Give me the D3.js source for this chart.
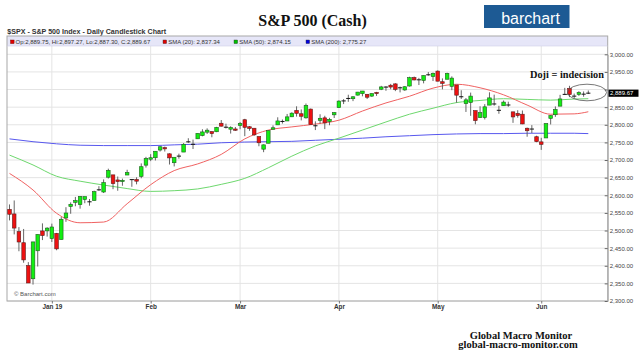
<!DOCTYPE html>
<html><head><meta charset="utf-8">
<script src="https://cdn.jsdelivr.net/npm/d3@7"></script>
<style>
html,body{margin:0;padding:0;background:#fff;}
svg{display:block;}
text{font-family:"Liberation Sans",Arial,sans-serif;}
.serif{font-family:"Liberation Serif","Times New Roman",serif;font-weight:bold;}
</style></head><body>
<svg id="chart" width="640" height="356"></svg>
<script>
// ---------- DATA ----------
const monthDays = [
  ["2018-12", [18,19,20,21,24,26,27,28,31]],
  ["2019-01", [2,3,4,7,8,9,10,11,14,15,16,17,18,22,23,24,25,28,29,30,31]],
  ["2019-02", [1,4,5,6,7,8,11,12,13,14,15,19,20,21,22,25,26,27,28]],
  ["2019-03", [1,4,5,6,7,8,11,12,13,14,15,18,19,20,21,22,25,26,27,28,29]],
  ["2019-04", [1,2,3,4,5,8,9,10,11,12,15,16,17,18,22,23,24,25,26,29,30]],
  ["2019-05", [1,2,3,6,7,8,9,10,13,14,15,16,17,20,21,22,23,24,28,29,30,31]],
  ["2019-06", [3,4,5,6,7,10,11,12,13,14,17]]
];
const monthLabels = ["Jan 19","Feb","Mar","Apr","May","Jun"];

const opens = [
 2559.90,2547.05,2496.77,2465.38,2400.56,2363.12,2442.50,2498.77,2498.94,
 2476.96,2491.92,2474.33,2535.61,2568.11,2580.00,2573.51,2588.11,2580.31,2585.10,2614.75,2609.28,2651.27,2657.88,2643.48,2638.84,2657.44,2644.97,2644.89,2653.62,2685.49,
 2702.32,2706.49,2728.34,2735.05,2717.53,2692.36,2712.40,2722.61,2750.30,2743.50,2760.24,2769.28,2779.05,2780.67,2780.24,2804.35,2792.36,2787.50,2788.11,
 2798.22,2814.37,2794.41,2790.27,2766.53,2730.79,2747.61,2787.34,2799.78,2810.38,2810.79,2822.61,2840.76,2831.34,2819.72,2844.52,2796.01,2812.66,2819.72,2809.40,2828.27,
 2848.63,2868.24,2876.09,2873.99,2884.16,2888.46,2886.58,2881.37,2891.92,2900.86,2908.32,2912.26,2916.04,2904.81,2898.78,2909.99,2934.00,2928.99,2925.81,2940.58,2937.14,
 2952.33,2922.16,2929.21,2908.89,2913.03,2879.61,2859.84,2863.10,2840.19,2820.12,2820.38,2855.80,2858.60,2841.94,2854.02,2856.06,2836.70,2832.41,2830.03,2790.25,2786.94,2766.15,
 2751.53,2762.64,2818.09,2828.51,2852.87,2885.83,2903.27,2882.73,2886.24,2886.82,2889.75
];
const highs = [
 2573.99,2585.29,2509.63,2504.41,2410.34,2467.76,2489.10,2520.27,2509.24,
 2519.49,2493.14,2538.07,2566.16,2579.82,2595.32,2597.82,2596.27,2589.32,2613.08,2625.76,2645.06,2675.47,2657.88,2653.19,2647.20,2672.38,2644.97,2650.93,2690.44,2708.95,
 2716.66,2724.99,2738.98,2738.08,2719.32,2708.07,2718.05,2748.19,2761.85,2757.90,2775.66,2787.33,2789.88,2781.58,2794.20,2813.49,2803.12,2795.76,2793.73,
 2808.02,2816.88,2796.44,2790.27,2767.25,2744.13,2784.00,2798.32,2821.24,2815.00,2830.73,2835.41,2852.42,2843.54,2860.31,2846.16,2809.79,2829.87,2825.56,2819.71,2836.03,
 2869.40,2872.90,2885.25,2881.28,2893.24,2895.95,2886.88,2889.71,2893.42,2910.54,2909.60,2916.06,2918.00,2908.40,2909.51,2936.31,2936.83,2933.10,2939.88,2949.52,2948.22,
 2954.13,2931.68,2947.85,2937.32,2913.03,2897.96,2875.97,2891.31,2840.19,2852.54,2858.68,2892.15,2885.48,2853.86,2868.88,2865.47,2836.70,2841.36,2840.51,2792.03,2799.00,2768.98,
 2763.07,2804.49,2827.28,2852.10,2884.97,2904.77,2910.61,2888.57,2895.24,2894.45,2897.27
];
const lows = [
 2528.71,2488.96,2441.18,2408.55,2351.10,2346.58,2397.94,2472.89,2482.82,
 2467.47,2443.96,2474.33,2524.56,2547.56,2568.89,2562.02,2577.40,2570.41,2585.10,2612.68,2606.36,2647.58,2617.27,2612.86,2627.01,2657.33,2624.06,2631.05,2648.34,2678.65,
 2696.88,2698.75,2724.03,2724.15,2687.26,2681.83,2703.79,2722.61,2748.63,2731.23,2760.24,2767.29,2774.06,2764.55,2779.11,2794.99,2789.47,2775.13,2782.51,
 2787.38,2767.66,2782.97,2768.69,2739.09,2722.27,2747.61,2786.73,2799.78,2803.46,2810.79,2821.99,2823.27,2812.43,2817.38,2800.47,2785.02,2803.99,2787.72,2798.77,2819.23,
 2848.63,2858.75,2865.17,2867.14,2882.99,2880.78,2873.33,2879.13,2881.99,2898.37,2896.48,2900.71,2895.45,2891.90,2896.35,2908.53,2926.05,2912.84,2917.56,2939.35,2924.11,
 2923.36,2900.50,2929.21,2898.21,2862.60,2873.28,2836.40,2825.39,2801.43,2820.12,2815.08,2855.80,2854.23,2831.29,2854.02,2851.11,2805.49,2820.19,2801.58,2766.06,2776.74,2750.52,
 2728.81,2762.64,2800.92,2822.45,2852.87,2885.51,2878.53,2874.68,2881.99,2879.62,2887.30
];
const closes = [
 2546.16,2506.96,2467.42,2416.62,2351.10,2467.70,2488.83,2485.74,2506.85,
 2510.03,2447.89,2531.94,2549.69,2574.41,2584.96,2596.64,2596.26,2582.61,2610.30,2616.10,2635.96,2670.71,2632.90,2638.70,2642.33,2664.76,2643.85,2640.00,2681.05,2704.10,
 2706.53,2724.87,2737.70,2731.61,2706.05,2707.88,2709.80,2744.73,2753.03,2745.73,2775.60,2779.76,2784.70,2774.88,2792.67,2796.11,2793.90,2792.38,2784.49,
 2803.69,2792.81,2789.65,2771.45,2748.93,2743.07,2783.30,2791.52,2810.92,2808.48,2822.48,2832.94,2832.57,2824.23,2854.88,2800.71,2798.36,2818.46,2805.37,2815.44,2834.40,
 2867.19,2867.24,2873.40,2879.39,2892.74,2895.77,2878.20,2888.21,2888.32,2907.41,2905.58,2907.06,2900.45,2905.03,2907.97,2933.68,2927.25,2926.17,2939.88,2943.03,2945.83,
 2923.73,2917.52,2945.64,2932.47,2884.05,2879.42,2870.72,2881.40,2811.87,2834.41,2850.96,2876.32,2859.53,2840.23,2864.36,2856.27,2822.24,2826.06,2802.39,2783.02,2788.86,2752.06,
 2744.45,2803.27,2826.15,2843.49,2873.34,2886.73,2885.72,2879.84,2891.64,2886.98,2889.67
];

// moving averages at every 5th session (plus the last)
const smaIndex = [0,5,10,15,20,25,30,35,40,45,50,55,60,65,70,75,80,85,90,95,100,105,110,115,120,123];
const sma20  = [2662,2615,2549,2522,2524,2576,2630,2670,2689,2716,2760,2785,2794,2802,2813,2839,2862,2881,2904,2915,2905,2885,2856,2830,2831,2837];
const sma50  = [2714,2686,2654,2640,2629,2619,2611,2613,2618,2631,2648,2678,2711,2740,2762,2785,2808,2830,2847,2863,2869,2874,2872,2870,2873,2874];
const sma200 = [2760,2752,2746,2742,2741,2741,2741,2743,2745,2749,2751,2752,2753,2756,2759,2762,2766,2769,2772,2774,2775,2775,2776,2776,2776,2775];

const priceTicks = [2300,2350,2400,2450,2500,2550,2600,2650,2700,2750,2800,2850,2900,2950,3000];
const lastBar = {op:"2,889.75", hi:"2,897.27", lo:"2,887.30", cl:"2,889.67", last:2889.67};
const legendItems = [
  {label:"SMA (20): 2,837.34", color:"#e00000"},
  {label:"SMA (50): 2,874.15", color:"#00c000"},
  {label:"SMA (200): 2,775.27", color:"#0000e0"}
];

// ---------- LAYOUT ----------
const plot = {left:7, right:607.7, top:36, band:46, bottom:301};
const svg = d3.select("#chart");

const dates = monthDays.flatMap(([m, ds]) => ds.map(d => m + "-" + String(d).padStart(2,"0")));
const n = dates.length;
const bars = dates.map((d,i) => ({i, date:d, o:opens[i], h:highs[i], l:lows[i], c:closes[i]}));

const x = d3.scaleLinear().domain([0, n-1]).range([9.5, 588.3]);
const y = d3.scaleLinear().domain([2300, 3000]).range([plot.bottom, 54.3]);

const monthStarts = [];
dates.forEach((d,i) => { if (i>0 && d.slice(0,7) !== dates[i-1].slice(0,7)) monthStarts.push(i); });

// ---------- TITLES ----------
svg.append("text").attr("class","serif").attr("x",312.5).attr("y",26)
  .attr("text-anchor","middle").attr("font-size",16).attr("fill","#111").text("S&P 500 (Cash)");

svg.append("rect").attr("x",484).attr("y",5).attr("width",85.5).attr("height",23).attr("fill","#1d5a94");
svg.append("text").attr("x",530.5).attr("y",23.5).attr("text-anchor","middle")
  .attr("font-size",16).attr("fill","#fff").attr("font-weight","500").text("barchart");

svg.append("text").attr("x",7.3).attr("y",34.3).attr("font-size",7.1).attr("font-weight","bold")
  .attr("fill","#333").text("$SPX - S&P 500 Index - Daily Candlestick Chart");

// ---------- FRAME / BAND ----------
svg.append("rect").attr("x",plot.left).attr("y",plot.top).attr("width",plot.right-plot.left)
  .attr("height",plot.band-plot.top).attr("fill","#e6e6f8");

const grid = svg.append("g");
grid.selectAll("line.h").data(priceTicks).join("line")
  .attr("x1",plot.left).attr("x2",plot.right)
  .attr("y1",d=>y(d)).attr("y2",d=>y(d))
  .attr("stroke","#e4e4e4").attr("stroke-width",1);
grid.selectAll("line.v").data(monthStarts).join("line")
  .attr("x1",d=>x(d)).attr("x2",d=>x(d))
  .attr("y1",plot.band).attr("y2",plot.bottom)
  .attr("stroke","#e4e4e4").attr("stroke-width",1);

svg.append("rect").attr("x",plot.left).attr("y",plot.top).attr("width",plot.right-plot.left)
  .attr("height",plot.bottom-plot.top).attr("fill","none").attr("stroke","#a8a8a8").attr("stroke-width",1);
svg.append("line").attr("x1",plot.left).attr("x2",plot.right).attr("y1",plot.band).attr("y2",plot.band)
  .attr("stroke","#d0d0e8").attr("stroke-width",0.6);

const leg = svg.append("g").attr("font-size",6).attr("fill","#333");
leg.append("rect").attr("x",10.5).attr("y",40).attr("width",3.6).attr("height",3.6)
  .attr("fill","#e00000").attr("stroke","#600").attr("stroke-width",0.4);
leg.append("text").attr("x",15.5).attr("y",43.6)
  .text(`Op:${lastBar.op}, Hi:${lastBar.hi}, Lo:${lastBar.lo}, C:${lastBar.cl}`);
const legX = [163, 234, 306];
legendItems.forEach((it,k) => {
  leg.append("rect").attr("x",legX[k]).attr("y",40).attr("width",3.6).attr("height",3.6)
    .attr("fill",it.color).attr("stroke","#333").attr("stroke-width",0.4);
  leg.append("text").attr("x",legX[k]+5.2).attr("y",43.6).text(it.label);
});

// ---------- SMA LINES ----------
const smaLine = vals => d3.line().x((d,k)=>x(smaIndex[k])).y(d=>y(d)).curve(d3.curveMonotoneX)(vals);
svg.append("path").attr("d",smaLine(sma200)).attr("fill","none").attr("stroke","#5858ee").attr("stroke-width",1);
svg.append("path").attr("d",smaLine(sma50)).attr("fill","none").attr("stroke","#6ed86e").attr("stroke-width",1);
svg.append("path").attr("d",smaLine(sma20)).attr("fill","none").attr("stroke","#f06262").attr("stroke-width",1);

// ---------- CANDLES ----------
const bw = 3.6;
const cg = svg.append("g");
const candle = cg.selectAll("g").data(bars).join("g");
candle.append("line")
  .attr("x1",d=>x(d.i)).attr("x2",d=>x(d.i))
  .attr("y1",d=>y(d.h)).attr("y2",d=>y(d.l))
  .attr("stroke","#555").attr("stroke-width",0.9);
candle.filter(d=>Math.abs(d.c-d.o) >= 3).append("rect")
  .attr("x",d=>x(d.i)-bw/2).attr("width",bw)
  .attr("y",d=>y(Math.max(d.o,d.c))).attr("height",d=>Math.max(1,y(Math.min(d.o,d.c))-y(Math.max(d.o,d.c))))
  .attr("fill",d=>d.c>d.o ? "#12ee12" : "#ee1111")
  .attr("stroke",d=>d.c>d.o ? "#1d5e1d" : "#5e1d1d").attr("stroke-width",0.6);
candle.filter(d=>Math.abs(d.c-d.o) < 3).append("line")
  .attr("x1",d=>x(d.i)-bw/2-0.3).attr("x2",d=>x(d.i)+bw/2+0.3)
  .attr("y1",d=>y((d.o+d.c)/2)).attr("y2",d=>y((d.o+d.c)/2))
  .attr("stroke","#111").attr("stroke-width",1);

// ---------- AXES ----------
const yAxis = d3.axisRight(y).tickValues(priceTicks).tickFormat(d3.format(",.2f"))
  .tickSizeInner(-3).tickSizeOuter(0).tickPadding(2);
const ya = svg.append("g").attr("transform",`translate(${plot.right},0)`).call(yAxis);
ya.select(".domain").attr("stroke","#a8a8a8");
ya.selectAll(".tick line").attr("stroke","#666");
ya.selectAll(".tick text").attr("font-size",6).attr("fill","#444").attr("font-family","Liberation Sans, Arial, sans-serif")
  .style("display",d=>Math.abs(y(d)-y(lastBar.last))<7 ? "none" : null);

const xAxis = d3.axisBottom(x).tickValues(monthStarts).tickFormat((d,k)=>monthLabels[k])
  .tickSizeInner(2.5).tickSizeOuter(0).tickPadding(0.8);
const xa = svg.append("g").attr("transform",`translate(0,${plot.bottom})`).call(xAxis);
xa.select(".domain").remove();
xa.selectAll(".tick line").attr("stroke","#777");
xa.selectAll(".tick text").attr("font-size",6.4).attr("font-weight","bold").attr("fill","#333")
  .attr("font-family","Liberation Sans, Arial, sans-serif");

const ly = y(lastBar.last);
svg.append("rect").attr("x",608.5).attr("y",ly-3.6).attr("width",30).attr("height",7.2).attr("fill","#000");
svg.append("text").attr("x",610).attr("y",ly+2.2).attr("font-size",6).attr("fill","#fff").text(lastBar.cl);

svg.append("text").attr("x",14).attr("y",295.7).attr("font-size",6).attr("fill","#555").text("\u00A9 Barchart.com");

// ---------- ANNOTATION ----------
svg.append("text").attr("class","serif").attr("x",530).attr("y",78).attr("font-size",10.3).attr("fill","#111")
  .text("Doji = indecision");
svg.append("ellipse").attr("cx",587).attr("cy",92.5).attr("rx",19.5).attr("ry",8.3)
  .attr("fill","none").attr("stroke","#555").attr("stroke-width",0.8);

// ---------- FOOTER ----------
svg.append("text").attr("class","serif").attr("x",521).attr("y",338.5).attr("text-anchor","middle")
  .attr("font-size",10.5).attr("fill","#111").text("Global Macro Monitor");
svg.append("text").attr("class","serif").attr("x",518).attr("y",348).attr("text-anchor","middle")
  .attr("font-size",10.5).attr("fill","#111").text("global-macro-monitor.com");
</script>
</body></html>
